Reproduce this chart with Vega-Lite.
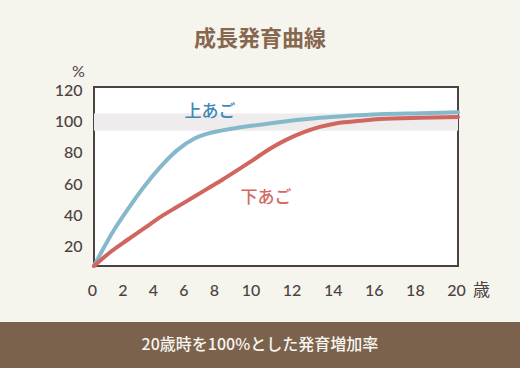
{
  "$schema": "https://vega.github.io/schema/vega-lite/v6.json",
  "width": 364,
  "height": 179,
  "autosize": {"type": "none"},
  "padding": {"left": 94, "top": 87, "right": 62, "bottom": 102},
  "background": "#f5f4ed",
  "title": {
    "text": "成長発育曲線",
    "anchor": "middle",
    "frame": "group",
    "dx": -16,
    "offset": 12,
    "fontSize": 22,
    "font": "Noto Sans CJK JP",
    "fontWeight": "bold",
    "color": "#86674f"
  },
  "config": {
    "view": {"fill": "white", "stroke": "#4d4242", "strokeWidth": 2},
    "axis": {
      "grid": false,
      "domain": false,
      "ticks": false,
      "tickSize": 0,
      "labelColor": "#4d4242",
      "labelFont": "Lato",
      "labelFontSize": 16,
      "labelFontWeight": 500,
      "labelFlush": false,
      "labelOverlap": false,
      "labelBound": false,
      "titleColor": "#4d4242",
      "titleFontWeight": "normal"
    }
  },
  "datasets": {
    "curves": [
      {"age": 0, "value": 7.7, "jaw": "上あご"},
      {"age": 1.31, "value": 30.7, "jaw": "上あご"},
      {"age": 2.18, "value": 43.4, "jaw": "上あご"},
      {"age": 3.28, "value": 58.3, "jaw": "上あご"},
      {"age": 4.37, "value": 71.1, "jaw": "上あご"},
      {"age": 5.46, "value": 81.7, "jaw": "上あご"},
      {"age": 6.56, "value": 88.9, "jaw": "上あご"},
      {"age": 7.65, "value": 92.8, "jaw": "上あご"},
      {"age": 8.35, "value": 94.3, "jaw": "上あご"},
      {"age": 9.2, "value": 96.0, "jaw": "上あご"},
      {"age": 10.04, "value": 97.4, "jaw": "上あご"},
      {"age": 11.66, "value": 100.2, "jaw": "上あご"},
      {"age": 13.28, "value": 102.4, "jaw": "上あご"},
      {"age": 14.66, "value": 103.6, "jaw": "上あご"},
      {"age": 16.2, "value": 104.6, "jaw": "上あご"},
      {"age": 18.15, "value": 105.2, "jaw": "上あご"},
      {"age": 20, "value": 105.8, "jaw": "上あご"},
      {"age": 0, "value": 7.7, "jaw": "下あご"},
      {"age": 1.1, "value": 16.8, "jaw": "下あご"},
      {"age": 2.18, "value": 24.3, "jaw": "下あご"},
      {"age": 3.28, "value": 31.7, "jaw": "下あご"},
      {"age": 4.37, "value": 39.1, "jaw": "下あご"},
      {"age": 5.46, "value": 45.5, "jaw": "下あご"},
      {"age": 6.56, "value": 51.9, "jaw": "下あご"},
      {"age": 7.65, "value": 58.3, "jaw": "下あご"},
      {"age": 8.35, "value": 62.8, "jaw": "下あご"},
      {"age": 9.13, "value": 68.6, "jaw": "下あご"},
      {"age": 10.04, "value": 75.5, "jaw": "下あご"},
      {"age": 10.85, "value": 82.6, "jaw": "下あご"},
      {"age": 11.66, "value": 88.4, "jaw": "下あご"},
      {"age": 12.47, "value": 93.0, "jaw": "下あご"},
      {"age": 13.28, "value": 96.5, "jaw": "下あご"},
      {"age": 14.1, "value": 98.9, "jaw": "下あご"},
      {"age": 15.24, "value": 100.4, "jaw": "下あご"},
      {"age": 16.2, "value": 101.5, "jaw": "下あご"},
      {"age": 18.15, "value": 102.4, "jaw": "下あご"},
      {"age": 20, "value": 102.8, "jaw": "下あご"}
    ],
    "labels": [
      {"age": 7.6, "value": 106.2, "jaw": "上あご"},
      {"age": 10.66, "value": 50.9, "jaw": "下あご"}
    ],
    "band": [{"start": 0, "end": 20, "low": 94, "high": 105}],
    "footer": [{"text": "20歳時を100%とした発育増加率"}]
  },
  "encoding": {
    "x": {
      "type": "quantitative",
      "scale": {"domain": [0, 8, 10, 20], "range": [0, 122, 158.5, 364], "nice": false, "zero": false},
      "axis": {
        "values": [0, 2, 4, 6, 8, 10, 12, 14, 16, 18, 20],
        "labelOverlap": false,
        "labelBaseline": "middle",
        "labelPadding": 24,
        "labelOffset": -2,
        "title": "歳",
        "titleFont": "Noto Sans CJK JP",
        "titleFontSize": 17,
        "titleX": 387,
        "titleY": 24,
        "titleAlign": "center",
        "titleBaseline": "middle"
      }
    },
    "y": {
      "type": "quantitative",
      "scale": {"domain": [7.7, 122], "nice": false, "zero": false},
      "axis": {
        "values": [20, 40, 60, 80, 100, 120],
        "labelOverlap": false,
        "labelPadding": 12,
        "title": "%",
        "titleFont": "Lato",
        "titleFontSize": 16,
        "titleAngle": 0,
        "titleX": -16,
        "titleY": -16,
        "titleAlign": "center",
        "titleBaseline": "middle"
      }
    }
  },
  "layer": [
    {
      "data": {"name": "footer"},
      "mark": {"type": "rect", "color": "#7b624d"},
      "encoding": {
        "x": {"datum": -8, "type": "quantitative"},
        "x2": {"datum": 25},
        "y": {"datum": -28.06, "type": "quantitative"},
        "y2": {"datum": -75}
      }
    },
    {
      "data": {"name": "footer"},
      "mark": {"type": "text", "font": "Noto Sans CJK JP", "fontSize": 16, "fontWeight": 500, "color": "#f7f5ee", "align": "center", "baseline": "middle"},
      "encoding": {
        "x": {"datum": 10.36, "type": "quantitative"},
        "y": {"datum": -42.7, "type": "quantitative"},
        "text": {"field": "text"}
      }
    },
    {
      "data": {"name": "band"},
      "mark": {"type": "rect", "color": "#eeecec"},
      "encoding": {
        "x": {"field": "start", "type": "quantitative"},
        "x2": {"field": "end"},
        "y": {"field": "low", "type": "quantitative"},
        "y2": {"field": "high"}
      }
    },
    {
      "data": {"name": "curves"},
      "mark": {"type": "line", "strokeWidth": 4, "interpolate": "monotone", "strokeCap": "round"},
      "encoding": {
        "x": {"field": "age", "type": "quantitative"},
        "y": {"field": "value", "type": "quantitative"},
        "color": {
          "field": "jaw",
          "type": "nominal",
          "scale": {"domain": ["上あご", "下あご"], "range": ["#86b8cb", "#d0665f"]},
          "legend": null
        }
      }
    },
    {
      "data": {"name": "labels"},
      "mark": {"type": "text", "font": "Noto Sans CJK JP", "fontSize": 17, "fontWeight": 500, "align": "center", "baseline": "middle"},
      "encoding": {
        "x": {"field": "age", "type": "quantitative"},
        "y": {"field": "value", "type": "quantitative"},
        "text": {"field": "jaw"},
        "fill": {
          "field": "jaw",
          "type": "nominal",
          "scale": {"domain": ["上あご", "下あご"], "range": ["#3f8ab4", "#d26a62"]},
          "legend": null
        }
      }
    }
  ]
}
